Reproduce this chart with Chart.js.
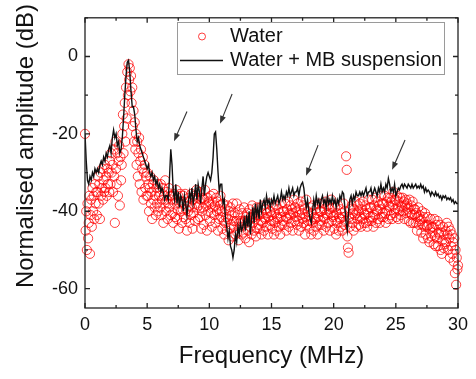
<!DOCTYPE html>
<html>
<head>
<meta charset="utf-8">
<script src="https://cdn.jsdelivr.net/npm/chart.js@4.4.0/dist/chart.umd.min.js"></script>
<style>
  html, body { margin: 0; padding: 0; background: #ffffff; }
  #chart { display: block; }
</style>
</head>
<body>
<canvas id="chart" width="476" height="379"></canvas>
<script>
// Water spectrum, one value every 0.05 MHz (rows = 1 MHz)
const waterStep = 0.05;
const waterDb = [
  -20, -45, -40, -50, -38, -47, -43, -36, -51, -41, -37, -44, -34, -40, -36, -42, -33, -38, -35, -41,
  -35, -31, -38, -33, -42, -30, -36, -34, -29, -37, -32, -35, -28, -34, -31, -36, -29, -33, -30, -35,
  -27, -33, -25, -30, -28, -35, -24, -31, -43, -22, -29, -33, -25, -36, -27, -23, -38.5, -26, -32, -28,
  -20, -15, -25, -18, -12, -22, -8, -16, -4, -10, -2, -6, -3, -9, -5, -12, -8, -18, -14, -22,
  -17, -24, -20, -28, -22, -31, -25, -21, -33, -27, -24, -35, -29, -26, -37, -30, -28, -34, -31, -36,
  -30, -36, -33, -40, -34, -31, -38, -35, -42, -33, -37, -32, -39, -36, -41, -34, -38, -33, -40, -36,
  -35, -39, -33, -41, -37, -34, -43, -36, -38, -32, -40, -37, -35, -42, -38, -34, -39, -36, -41, -37,
  -36, -40.5, -43, -35.5, -38, -41.5, -37, -34.5, -42, -39.5, -36, -44.5, -38, -35.5, -40, -37.5, -43, -39.5, -36, -41.5,
  -38, -35.5, -42, -39.5, -45, -37.5, -40, -36.5, -43, -38.5, -41, -35.5, -39, -44.5, -37, -40.5, -36, -42.5, -38, -34.5,
  -39, -36.5, -42, -38.5, -35, -41.5, -37, -44.5, -40, -36.5, -39, -43.5, -37, -34.5, -41, -38.5, -45, -36.5, -40, -37.5,
  -38, -42.5, -36, -40.5, -44, -37.5, -39, -35.5, -41, -38.5, -43, -36.5, -40, -37.5, -45, -39.5, -42, -38.5, -36, -41.5,
  -40, -44.5, -38, -42.5, -46, -39.5, -43, -41.5, -45, -38.5, -42, -47.5, -40, -44.5, -39, -43.5, -41, -46.5, -38, -42.5,
  -44, -40.5, -46, -42.5, -38, -45.5, -41, -47.5, -43, -39.5, -44, -42.5, -46, -40.5, -43, -45.5, -39, -42.5, -47, -41.5,
  -43, -40.5, -45, -42.5, -48, -39.5, -44, -41.5, -46, -38.5, -43, -41.5, -45, -40.5, -42, -46.5, -39, -44.5, -41, -43.5,
  -41, -44.5, -39, -42.5, -46, -40.5, -43, -38.5, -45, -41.5, -42, -39.5, -44, -40.5, -46, -41.5, -38, -43.5, -40, -42.5,
  -41, -44.5, -39, -42.5, -46, -40.5, -43, -38.5, -45, -41.5, -42, -39.5, -44, -40.5, -46, -41.5, -38, -43.5, -40, -42.5,
  -40, -43.5, -38, -41.5, -45, -39.5, -42, -37.5, -44, -40.5, -41, -38.5, -43, -39.5, -45, -40.5, -37, -42.5, -39, -41.5,
  -40, -43.5, -38, -42.5, -45, -39.5, -41, -37.5, -44, -40.5, -42, -38.5, -43, -39.5, -46, -41.5, -37, -43.5, -40, -42.5,
  -41, -44.5, -39, -42.5, -46, -40.5, -43, -38.5, -45, -41.5, -42, -39.5, -44, -40.5, -46, -41.5, -38, -43.5, -40, -42.5,
  -40, -43.5, -38, -41.5, -45, -39.5, -42, -37.5, -44, -40.5, -41, -38.5, -43, -39.5, -45, -40.5, -37, -42.5, -39, -41.5,
  -41, -44.5, -39, -42.5, -46, -40.5, -43, -38.5, -45, -41.5, -42, -39.5, -44, -40.5, -45, -41.5, -38, -43.5, -40, -42.5,
  -25.8, -29.3, -46.5, -49.4, -50.7, -41.5, -44, -39.5, -42, -38.5, -43, -40.5, -45, -39.5, -41, -37.5, -44, -40.5, -42, -38.5,
  -40, -43.5, -38, -41.5, -44, -39.5, -42, -37.5, -43, -40.5, -41, -38.5, -43, -39.5, -44, -40.5, -37, -42.5, -39, -41.5,
  -39, -42.5, -37, -41.5, -44, -38.5, -41, -36.5, -43, -39.5, -40, -37.5, -42, -38.5, -43, -39.5, -36, -41.5, -38, -40.5,
  -38, -41.5, -36, -40.5, -43, -37.5, -40, -36.5, -42, -38.5, -39, -36.5, -41, -37.5, -42, -38.5, -35, -40.5, -37, -39.5,
  -37, -41.5, -36, -39.5, -42, -37.5, -40, -36.5, -41, -38.5, -39, -36.5, -40, -37.5, -42, -38.5, -37, -40.5, -38, -39.5,
  -39, -42.5, -37, -40.5, -43, -38.5, -41, -37.5, -43, -39.5, -41, -39.5, -43, -40.5, -45, -41.5, -39, -43.5, -41, -42.5,
  -42, -45.5, -40, -43.5, -47, -41.5, -44, -40.5, -46, -43.5, -44, -41.5, -47, -43.5, -48, -44.5, -42, -46.5, -44, -45.5,
  -44, -48.5, -42, -46.5, -49, -43.5, -47, -42.5, -49, -45.5, -46, -43.5, -50, -45.5, -51, -47.5, -44, -49.5, -46, -48.5,
  -45, -48, -43, -46, -50, -44, -47, -52, -45, -49, -46, -51, -48, -53, -47, -56, -50, -59, -52, -55,
  -54
];

// Water + MB suspension, one value every 0.1 MHz (rows = 1 MHz)
const mbStep = 0.1;
const mbDb = [
  -20, -27, -32, -33, -31, -32, -30, -31, -29, -30,
  -29, -30, -28, -27, -28, -26, -27, -25, -26, -24,
  -23, -25, -21, -19, -21, -20, -23, -22, -25, -24,
  -21, -16, -10, -5, -1.5, -1, -4, -9, -13, -13,
  -15, -19, -22, -21, -23, -24, -25, -26, -27, -28,
  -29, -28, -30, -31, -30, -32, -31, -33, -32, -34,
  -33, -35, -34, -35, -37, -36, -36, -37, -31, -24,
  -28, -35, -37, -33, -38, -35, -39, -36, -37, -40,
  -36, -38, -41, -38, -35, -37, -34, -38, -36, -33,
  -37, -33, -35, -38, -34, -31, -36, -33, -31, -30,
  -31, -32, -30, -26, -20, -19.5, -24, -30, -35, -33,
  -33, -38, -37, -42, -44, -47, -45, -49, -50, -52,
  -50, -46, -48, -44, -46, -43, -45, -44, -42, -45,
  -41, -44, -40, -46, -42, -39, -43, -38, -41, -39,
  -42, -37, -40, -38, -37, -39, -36, -38, -37, -39,
  -37, -38, -36, -38, -37, -36, -38, -37, -35, -37,
  -36, -37, -35, -36, -34, -36, -35, -34, -36, -35,
  -35, -34, -36, -34, -33, -32.5, -34, -37, -39, -37,
  -40, -42, -43, -40, -37, -39, -36, -38, -37, -39,
  -37, -36, -38, -37, -39, -36, -38, -37, -38, -36,
  -38, -37, -39, -37, -38, -36, -37, -35, -35.5, -39,
  -43, -45, -40, -37, -36, -38, -36, -37, -35, -36,
  -36, -35, -36, -35, -36, -35, -34, -36, -35, -35,
  -34, -36, -35, -34, -35, -36, -34, -35, -33, -35,
  -34, -35, -33, -34, -31.5, -33, -35, -34, -35, -33,
  -36, -35, -34, -34.5, -33.5, -33, -34, -33, -33.5, -34,
  -33, -33.5, -34, -33, -34, -33.5, -33, -34, -33.5, -34,
  -33, -34, -33.5, -35, -34, -35, -34.5, -35, -36, -35,
  -35.5, -36, -35, -36, -35.5, -36.5, -36, -37, -36, -36.5,
  -36, -37, -36.5, -37, -36.5, -37.5, -37, -38, -37.5, -38,
  -38
];

const xTickLabels = [0, 5, 10, 15, 20, 25, 30];
const yTickLabels = [-60, -40, -20, 0];
const xTickMarks = [0, 2.5, 5, 7.5, 10, 12.5, 15, 17.5, 20, 22.5, 25, 27.5, 30];
const yTickMarks = [-60, -50, -40, -30, -20, -10, 0, 10];

// arrows pointing at the MB peaks: [fromX, fromY, toX, toY] in MHz / dB
const peakArrows = [
  [8.2, -14.2, 7.16, -21.9],
  [11.83, -9.7, 10.86, -17.4],
  [18.75, -22.9, 17.78, -30.8],
  [25.74, -21.6, 24.7, -29.3]
];

const FONT = "'Liberation Sans', Arial, sans-serif";

const frameAndLegend = {
  id: 'frameAndLegend',
  afterDatasetsDraw(chart) {
    const { ctx, scales: { x, y } } = chart;
    ctx.save();
    ctx.strokeStyle = '#333';
    ctx.fillStyle = '#333';
    ctx.lineWidth = 1.1;
    peakArrows.forEach(([x1, y1, x2, y2]) => {
      const ax = x.getPixelForValue(x1), ay = y.getPixelForValue(y1);
      const bx = x.getPixelForValue(x2), by = y.getPixelForValue(y2);
      const ang = Math.atan2(by - ay, bx - ax);
      const hl = 8, hw = 3;
      ctx.beginPath();
      ctx.moveTo(ax, ay);
      ctx.lineTo(bx - Math.cos(ang) * hl * 0.8, by - Math.sin(ang) * hl * 0.8);
      ctx.stroke();
      ctx.beginPath();
      ctx.moveTo(bx, by);
      ctx.lineTo(bx - Math.cos(ang) * hl - Math.sin(ang) * hw, by - Math.sin(ang) * hl + Math.cos(ang) * hw);
      ctx.lineTo(bx - Math.cos(ang) * hl + Math.sin(ang) * hw, by - Math.sin(ang) * hl - Math.cos(ang) * hw);
      ctx.closePath();
      ctx.fill();
    });
    ctx.restore();
  },
  afterDraw(chart) {
    const { ctx, chartArea: a, scales: { x, y } } = chart;
    ctx.save();
    // frame
    ctx.strokeStyle = '#222';
    ctx.lineWidth = 1.3;
    ctx.strokeRect(a.left, a.top, a.right - a.left, a.bottom - a.top);
    // inward ticks on all four sides
    ctx.beginPath();
    xTickMarks.forEach(v => {
      const px = x.getPixelForValue(v);
      const len = v % 5 === 0 ? 5 : 3;
      ctx.moveTo(px, a.bottom); ctx.lineTo(px, a.bottom - len);
      ctx.moveTo(px, a.top); ctx.lineTo(px, a.top + len);
    });
    yTickMarks.forEach(v => {
      const py = y.getPixelForValue(v);
      const len = v % 20 === 0 ? 5 : 3;
      ctx.moveTo(a.left, py); ctx.lineTo(a.left + len, py);
      ctx.moveTo(a.right, py); ctx.lineTo(a.right - len, py);
    });
    ctx.stroke();

    // y axis title
    ctx.save();
    ctx.translate(26, 146);
    ctx.rotate(-Math.PI / 2);
    ctx.fillStyle = '#111';
    ctx.font = `24px ${FONT}`;
    ctx.textAlign = 'center';
    ctx.textBaseline = 'middle';
    ctx.fillText('Normalised amplitude (dB)', 0, 0);
    ctx.restore();

    // legend
    const ds = chart.data.datasets;
    ctx.fillStyle = '#ffffff';
    ctx.fillRect(177, 22, 267, 52);
    ctx.strokeStyle = '#9a9a9a';
    ctx.lineWidth = 1;
    ctx.strokeRect(177.5, 22.5, 267, 52);
    ctx.strokeStyle = ds[0].borderColor;
    ctx.beginPath();
    ctx.arc(202, 36.5, 3.5, 0, Math.PI * 2);
    ctx.stroke();
    ctx.strokeStyle = ds[1].borderColor;
    ctx.lineWidth = ds[1].borderWidth;
    ctx.beginPath();
    ctx.moveTo(180, 60.5); ctx.lineTo(223, 60.5);
    ctx.stroke();
    ctx.fillStyle = '#111';
    ctx.font = `20px ${FONT}`;
    ctx.textAlign = 'left';
    ctx.textBaseline = 'middle';
    ctx.fillText(ds[0].label, 230, 36.5);
    ctx.fillText(ds[1].label, 230, 60);
    ctx.restore();
  }
};

new Chart(document.getElementById('chart'), {
  type: 'scatter',
  data: {
    datasets: [
      {
        label: 'Water',
        data: waterDb.map((v, i) => ({ x: +(i * waterStep).toFixed(2), y: v })),
        borderColor: 'rgba(255, 0, 0, 0.75)',
        backgroundColor: 'rgba(255, 0, 0, 0)',
        borderWidth: 1,
        pointRadius: 4.6,
        clip: false,
        order: 1
      },
      {
        label: 'Water + MB suspension',
        data: mbDb.map((v, i) => ({ x: +(i * mbStep).toFixed(1), y: v })),
        showLine: true,
        borderColor: '#111111',
        backgroundColor: '#111111',
        borderWidth: 1.4,
        pointRadius: 0,
        tension: 0,
        order: 0
      }
    ]
  },
  options: {
    responsive: false,
    animation: false,
    events: [],
    layout: { padding: { top: 8, right: 18, left: 0, bottom: 0 } },
    plugins: {
      legend: { display: false },
      tooltip: { enabled: false }
    },
    scales: {
      x: {
        type: 'linear',
        min: 0,
        max: 30,
        afterBuildTicks: s => { s.ticks = xTickLabels.map(v => ({ value: v })); },
        afterFit: s => { s.height = 71; },
        grid: { display: false, drawTicks: false },
        border: { display: false },
        ticks: { color: '#111', padding: 6, font: { family: FONT, size: 18 }, maxRotation: 0 },
        title: {
          display: true,
          text: 'Frequency (MHz)',
          color: '#111',
          font: { family: FONT, size: 24 },
          padding: { top: 0, bottom: 8 }
        }
      },
      y: {
        type: 'linear',
        min: -65,
        max: 10,
        afterBuildTicks: s => { s.ticks = yTickLabels.map(v => ({ value: v })); },
        afterFit: s => { s.width = 85; },
        grid: { display: false, drawTicks: false },
        border: { display: false },
        ticks: { color: '#111', padding: 7, font: { family: FONT, size: 18 } }
      }
    }
  },
  plugins: [frameAndLegend]
});
</script>
</body>
</html>
